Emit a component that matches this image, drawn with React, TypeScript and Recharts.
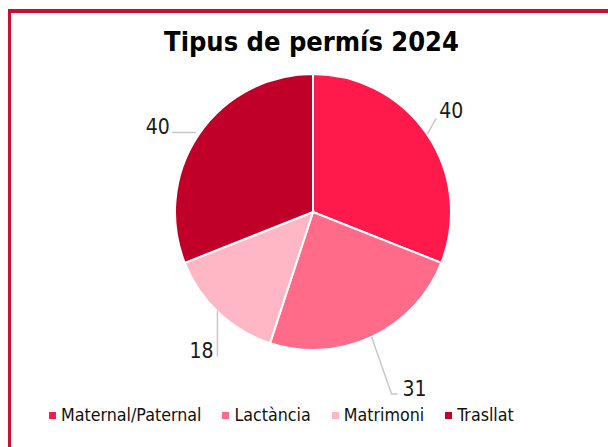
import React from 'react';
import { PieChart, Pie, Cell, Legend } from 'recharts';

const categories = ['Maternal/Paternal', 'Lactància', 'Matrimoni', 'Trasllat'];
const values = [40, 31, 18, 40];
const colors = ['#FF1A4B', '#FF6B88', '#FFB7C5', '#C00028'];

const chartData = categories.map((name, i) => ({ name, value: values[i] }));

const FONT = '"DejaVu Sans Condensed", "DejaVu Sans", sans-serif';
const RADIAN = Math.PI / 180;

// leader line elbows and text offsets, relative to the slice edge point
const labelGeom = [
    { line: [[0, 0], [9, -16]], text: [12, -23], anchor: 'start' },
    { line: [[0, 0], [20, 57], [26, 57]], text: [31, 52], anchor: 'start' },
    { line: [[-1, -2], [-1, 44]], text: [-5, 38], anchor: 'end' },
    { line: [[-3, -2], [-27, -2]], text: [-29, -7], anchor: 'end' },
];

const renderLabel = (props: any) => {
    const { cx, cy, midAngle, outerRadius, index, value } = props;
    const ex = cx + outerRadius * Math.cos(-midAngle * RADIAN);
    const ey = cy + outerRadius * Math.sin(-midAngle * RADIAN);
    const g = labelGeom[index];
    const pts = g.line.map(([dx, dy]) => `${ex + dx},${ey + dy}`).join(' ');
    return (
        <g key={`lbl-${index}`}>
            <polyline points={pts} fill="none" stroke="#c8c8c8" strokeWidth={1.5} />
            <text
                x={ex + g.text[0]}
                y={ey + g.text[1]}
                textAnchor={g.anchor as any}
                dominantBaseline="central"
                fill="#1a1a1a"
                fontFamily={FONT}
                fontSize={21}
            >
                {value}
            </text>
        </g>
    );
};

const renderLegend = () => (
    <div style={{ display: 'flex', paddingLeft: 49, fontFamily: FONT, fontSize: 17.7, color: '#111' }}>
        {categories.map((c, i) => (
            <div key={c} style={{ display: 'flex', alignItems: 'center', marginRight: 21 }}>
                <span style={{ width: 7, height: 7, background: colors[i], marginRight: 5, display: 'inline-block' }} />
                <span>{c}</span>
            </div>
        ))}
    </div>
);

const App: React.FC = () => {
    return (
        <div style={{ position: 'absolute', left: 0, top: 0, width: 608, height: 447, background: '#fff', overflow: 'hidden' }}>
            <div
                style={{
                    position: 'absolute',
                    left: 8,
                    top: 9,
                    width: 600,
                    height: 438,
                    borderTop: '4px solid #C8102E',
                    borderLeft: '3px solid #C8102E',
                    boxSizing: 'border-box',
                }}
            />
            <div
                style={{
                    position: 'absolute',
                    left: 0,
                    width: 623,
                    top: 26,
                    textAlign: 'center',
                    fontFamily: FONT,
                    fontWeight: 'bold',
                    fontSize: 27,
                    color: '#000',
                }}
            >
                Tipus de permís 2024
            </div>
            <PieChart width={608} height={447} style={{ position: 'absolute', left: 0, top: 0 }}>
                <Pie
                    data={chartData}
                    dataKey="value"
                    nameKey="name"
                    cx={308}
                    cy={207}
                    outerRadius={138}
                    startAngle={90}
                    endAngle={-270}
                    stroke="#fff"
                    strokeWidth={2}
                    labelLine={false}
                    label={renderLabel}
                    isAnimationActive={false}
                >
                    {chartData.map((d, i) => (
                        <Cell key={d.name} fill={colors[i]} />
                    ))}
                </Pie>
                <Legend content={renderLegend} wrapperStyle={{ position: 'absolute', left: 0, top: 405, width: 608 }} />
            </PieChart>
        </div>
    );
};

export default App;
